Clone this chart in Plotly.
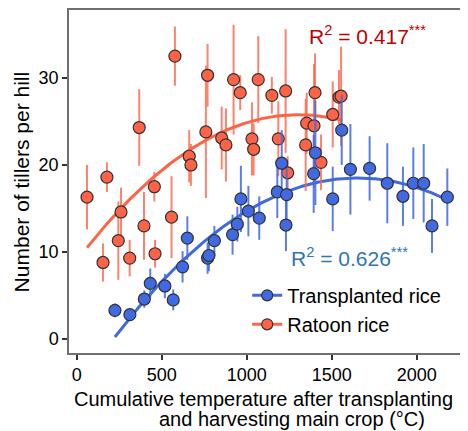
import numpy as np
import plotly.graph_objects as go

# Transplanted rice
tp_x = [225, 313, 398, 433, 519, 568, 623, 651, 770, 778, 810, 917, 945, 966, 1010, 1074,
        1180, 1206, 1231, 1235, 1394, 1404, 1506, 1559, 1610, 1723, 1827, 1919, 1980, 2041, 2090, 2180]
tp_y = [3.3, 2.8, 4.6, 6.4, 6.1, 4.5, 8.3, 11.6, 9.3, 9.6, 11.3, 12.0, 13.2, 16.1, 14.7, 13.9,
        16.9, 20.2, 13.1, 16.6, 19.0, 21.4, 16.1, 24.0, 19.5, 19.6, 17.9, 16.4, 17.9, 17.9, 13.0, 16.3]
tp_err = [0.8, 0.6, 1.0, 1.7, 1.4, 1.2, 1.8, 2.5, 1.8, 1.8, 1.7, 2.3, 2.0, 3.8, 2.9, 2.5,
          3.0, 3.8, 3.0, 3.0, 4.5, 6.0, 3.7, 4.0, 5.2, 3.7, 4.6, 3.4, 4.1, 4.5, 3.1, 3.3]

# Ratoon rice
rt_x = [61, 155, 178, 245, 261, 312, 368, 396, 457, 461, 558, 578, 662, 672, 760, 770, 853, 878,
        923, 962, 1031, 1041, 1068, 1148, 1186, 1229, 1241, 1347, 1353, 1396, 1402, 1437, 1506, 1543, 1555]
rt_y = [16.3, 8.8, 18.6, 11.3, 14.6, 9.3, 24.3, 13.0, 17.5, 9.8, 14.0, 32.5, 21.0, 20.0, 23.8, 30.3, 23.1, 22.3,
        29.8, 28.3, 23.0, 21.8, 29.8, 28.0, 23.0, 28.5, 19.1, 22.3, 24.8, 24.5, 28.3, 20.3, 25.8, 27.8, 27.9]
rt_err = [3.7, 2.2, 1.7, 4.5, 2.8, 2.1, 4.4, 3.9, 1.7, 1.6, 4.7, 3.4, 3.0, 2.4, 7.6, 3.6, 3.6, 4.2,
          6.3, 2.0, 4.2, 3.0, 5.0, 2.1, 4.3, 7.1, 1.9, 5.3, 3.5, 7.1, 4.5, 3.2, 3.8, 3.1, 5.7]

x_ticks = [0, 500, 1000, 1500, 2000]
y_ticks = [0, 10, 20, 30]

BLUE = "#4169E1"
ORANGE = "#FF6347"
BLUE_BAR = "rgba(65,105,225,0.85)"
ORANGE_BAR = "rgba(255,99,71,0.8)"

def fit_curve(x, y):
    c = np.polyfit(x, y, 2)
    xs = np.linspace(min(x), max(x), 200)
    return xs, np.polyval(c, xs)

fig = go.Figure()

tx, ty = fit_curve(tp_x, tp_y)
rx, ry = fit_curve(rt_x, rt_y)

fig.add_trace(go.Scatter(x=rx, y=ry, mode="lines", line=dict(color=ORANGE, width=3), showlegend=False))
fig.add_trace(go.Scatter(x=tx, y=ty, mode="lines", line=dict(color=BLUE, width=3), showlegend=False))

fig.add_trace(go.Scatter(
    x=rt_x, y=rt_y, mode="markers", showlegend=False,
    error_y=dict(type="data", array=rt_err, color=ORANGE_BAR, thickness=2, width=0),
    marker=dict(color=ORANGE, size=12, line=dict(color="#333333", width=1.2))))
fig.add_trace(go.Scatter(
    x=tp_x, y=tp_y, mode="markers", showlegend=False,
    error_y=dict(type="data", array=tp_err, color=BLUE_BAR, thickness=2, width=0),
    marker=dict(color=BLUE, size=12, line=dict(color="#333333", width=1.2))))

# legend entries
fig.add_trace(go.Scatter(x=[None], y=[None], mode="lines+markers", name="Transplanted rice",
                         line=dict(color=BLUE, width=3),
                         marker=dict(color=BLUE, size=11, line=dict(color="#333333", width=1.2))))
fig.add_trace(go.Scatter(x=[None], y=[None], mode="lines+markers", name="Ratoon rice",
                         line=dict(color=ORANGE, width=3),
                         marker=dict(color=ORANGE, size=11, line=dict(color="#333333", width=1.2))))

FONT = "Arial, Liberation Sans, sans-serif"

fig.update_layout(
    width=460, height=423,
    margin=dict(l=61, r=3, t=2, b=78),
    plot_bgcolor="white", paper_bgcolor="white",
    font=dict(family=FONT, size=18, color="#000000"),
    legend=dict(x=0.45, y=0.225, xanchor="left", yanchor="top", bgcolor="rgba(0,0,0,0)",
                font=dict(size=20), tracegroupgap=0, itemwidth=30),
    xaxis=dict(range=[-45, 2284], tickvals=x_ticks, showgrid=False, zeroline=False,
               showline=True, linecolor="#707070", linewidth=1.5, mirror=True,
               ticks="outside", ticklen=5, tickwidth=1.5, tickcolor="#333333",
               tickfont=dict(size=18), automargin=False),
    yaxis=dict(range=[-1.6, 37.8], tickvals=y_ticks, showgrid=False, zeroline=False,
               showline=True, linecolor="#707070", linewidth=1.5, mirror=True,
               ticks="outside", ticklen=5, tickwidth=1.5, tickcolor="#333333",
               tickfont=dict(size=18), automargin=False),
    annotations=[
        dict(text="Number of tillers per hill", xref="paper", yref="paper",
             x=-0.119, y=0.5, xanchor="center", yanchor="middle", textangle=-90,
             showarrow=False, font=dict(size=21)),
        dict(text="Cumulative temperature after transplanting", xref="paper", yref="paper",
             x=0.491, y=-0.097, xanchor="center", yanchor="top", showarrow=False, font=dict(size=20)),
        dict(text="and harvesting main crop (°C)", xref="paper", yref="paper",
             x=0.562, y=-0.157, xanchor="center", yanchor="top", showarrow=False, font=dict(size=20),
             borderpad=0),
        dict(text="R<sup>2</sup> = 0.417<sup>***</sup>", xref="paper", yref="paper",
             x=0.907, y=0.927, xanchor="right", yanchor="middle", showarrow=False,
             font=dict(size=21, color="#C00000")),
        dict(text="R<sup>2</sup> = 0.626<sup>***</sup>", xref="paper", yref="paper",
             x=0.861, y=0.28, xanchor="right", yanchor="middle", showarrow=False,
             font=dict(size=21, color="#2E75B6")),
    ],
)

fig.write_html("out.html")
